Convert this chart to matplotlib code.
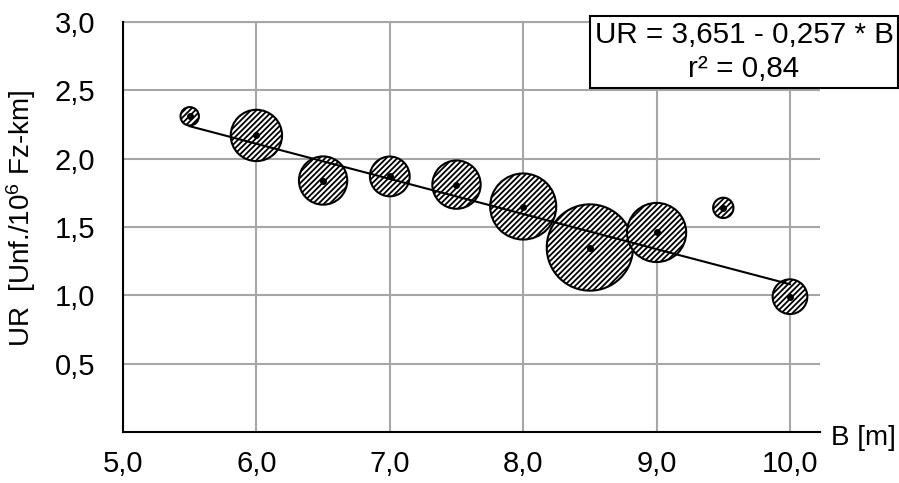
import numpy as np
import matplotlib
matplotlib.use("Agg")
import matplotlib.pyplot as plt
from matplotlib.ticker import FuncFormatter

plt.rcParams['font.family'] = ['Liberation Sans', 'DejaVu Sans']
plt.rcParams['mathtext.fontset'] = 'custom'
plt.rcParams['mathtext.rm'] = 'Liberation Sans'
plt.rcParams['mathtext.it'] = 'Liberation Sans:italic'
plt.rcParams['hatch.linewidth'] = 1.3

# data
B = [5.5, 6.0, 6.5, 7.0, 7.5, 8.0, 8.5, 9.0, 9.5, 10.0]
UR = [2.31, 2.17, 1.84, 1.87, 1.81, 1.65, 1.35, 1.46, 1.64, 0.99]
exposure = [9, 70, 62, 42, 62, 116, 198, 93, 11, 32]   # bubble weight (area)
a, b = 3.651, -0.257
r2 = 0.84


def comma(v, pos):
    return f"{v:.1f}".replace('.', ',')


fig = plt.figure(figsize=(8.99, 4.83), dpi=100)
ax = fig.add_axes([123 / 899, 1 - 432 / 483, (820 - 123) / 899, (432 - 22) / 483])

ax.scatter(B, UR, s=np.array(exposure) * 19.5, facecolor='white', edgecolor='black',
           linewidth=1.5, hatch='//////', zorder=3)
xl = np.array([min(B), max(B)])
ax.plot(xl, a + b * xl, color='black', lw=1.5, zorder=4)
ax.plot(B, UR, 'o', color='black', ms=4, zorder=5)

ax.set_xlim(5, 10.225)
ax.set_ylim(0, 3.0)
ax.set_xticks(np.arange(5, 10.01, 1.0))
ax.set_yticks(np.arange(0.5, 3.01, 0.5))
ax.xaxis.set_major_formatter(FuncFormatter(comma))
ax.yaxis.set_major_formatter(FuncFormatter(comma))
ax.tick_params(length=0, labelsize=21)
ax.tick_params(axis='x', pad=13)
ax.tick_params(axis='y', pad=20)
ax.grid(True, color='#a6a6a6', lw=1.5, zorder=0)
ax.set_axisbelow(True)
ax.axhline(3.0, color='#a6a6a6', lw=1.5, zorder=0, clip_on=False)
for s in ['top', 'right']:
    ax.spines[s].set_visible(False)
for s in ['left', 'bottom']:
    ax.spines[s].set_linewidth(1.5)
    ax.spines[s].set_zorder(2)

ax.set_ylabel('UR  [Unf./10$^6$ Fz-km]', fontsize=20)
ax.yaxis.set_label_coords(-0.122, 0.52)
ax.annotate('B [m]', xy=(1.0, 0.0), xycoords='axes fraction', xytext=(8, -4),
            textcoords='offset points', ha='left', va='center', fontsize=20)

eq = f"UR = {a:.3f} - {abs(b):.3f} * B\nr² = {r2:.2f}".replace('.', ',')
fig.text(744 / 899, 1 - 52 / 483, eq, ha='center', va='center', fontsize=21.3,
         linespacing=1.3, multialignment='center',
         bbox=dict(boxstyle='square,pad=0.15', facecolor='white', edgecolor='black', lw=1.5))

fig.savefig('out.png', dpi=100)
